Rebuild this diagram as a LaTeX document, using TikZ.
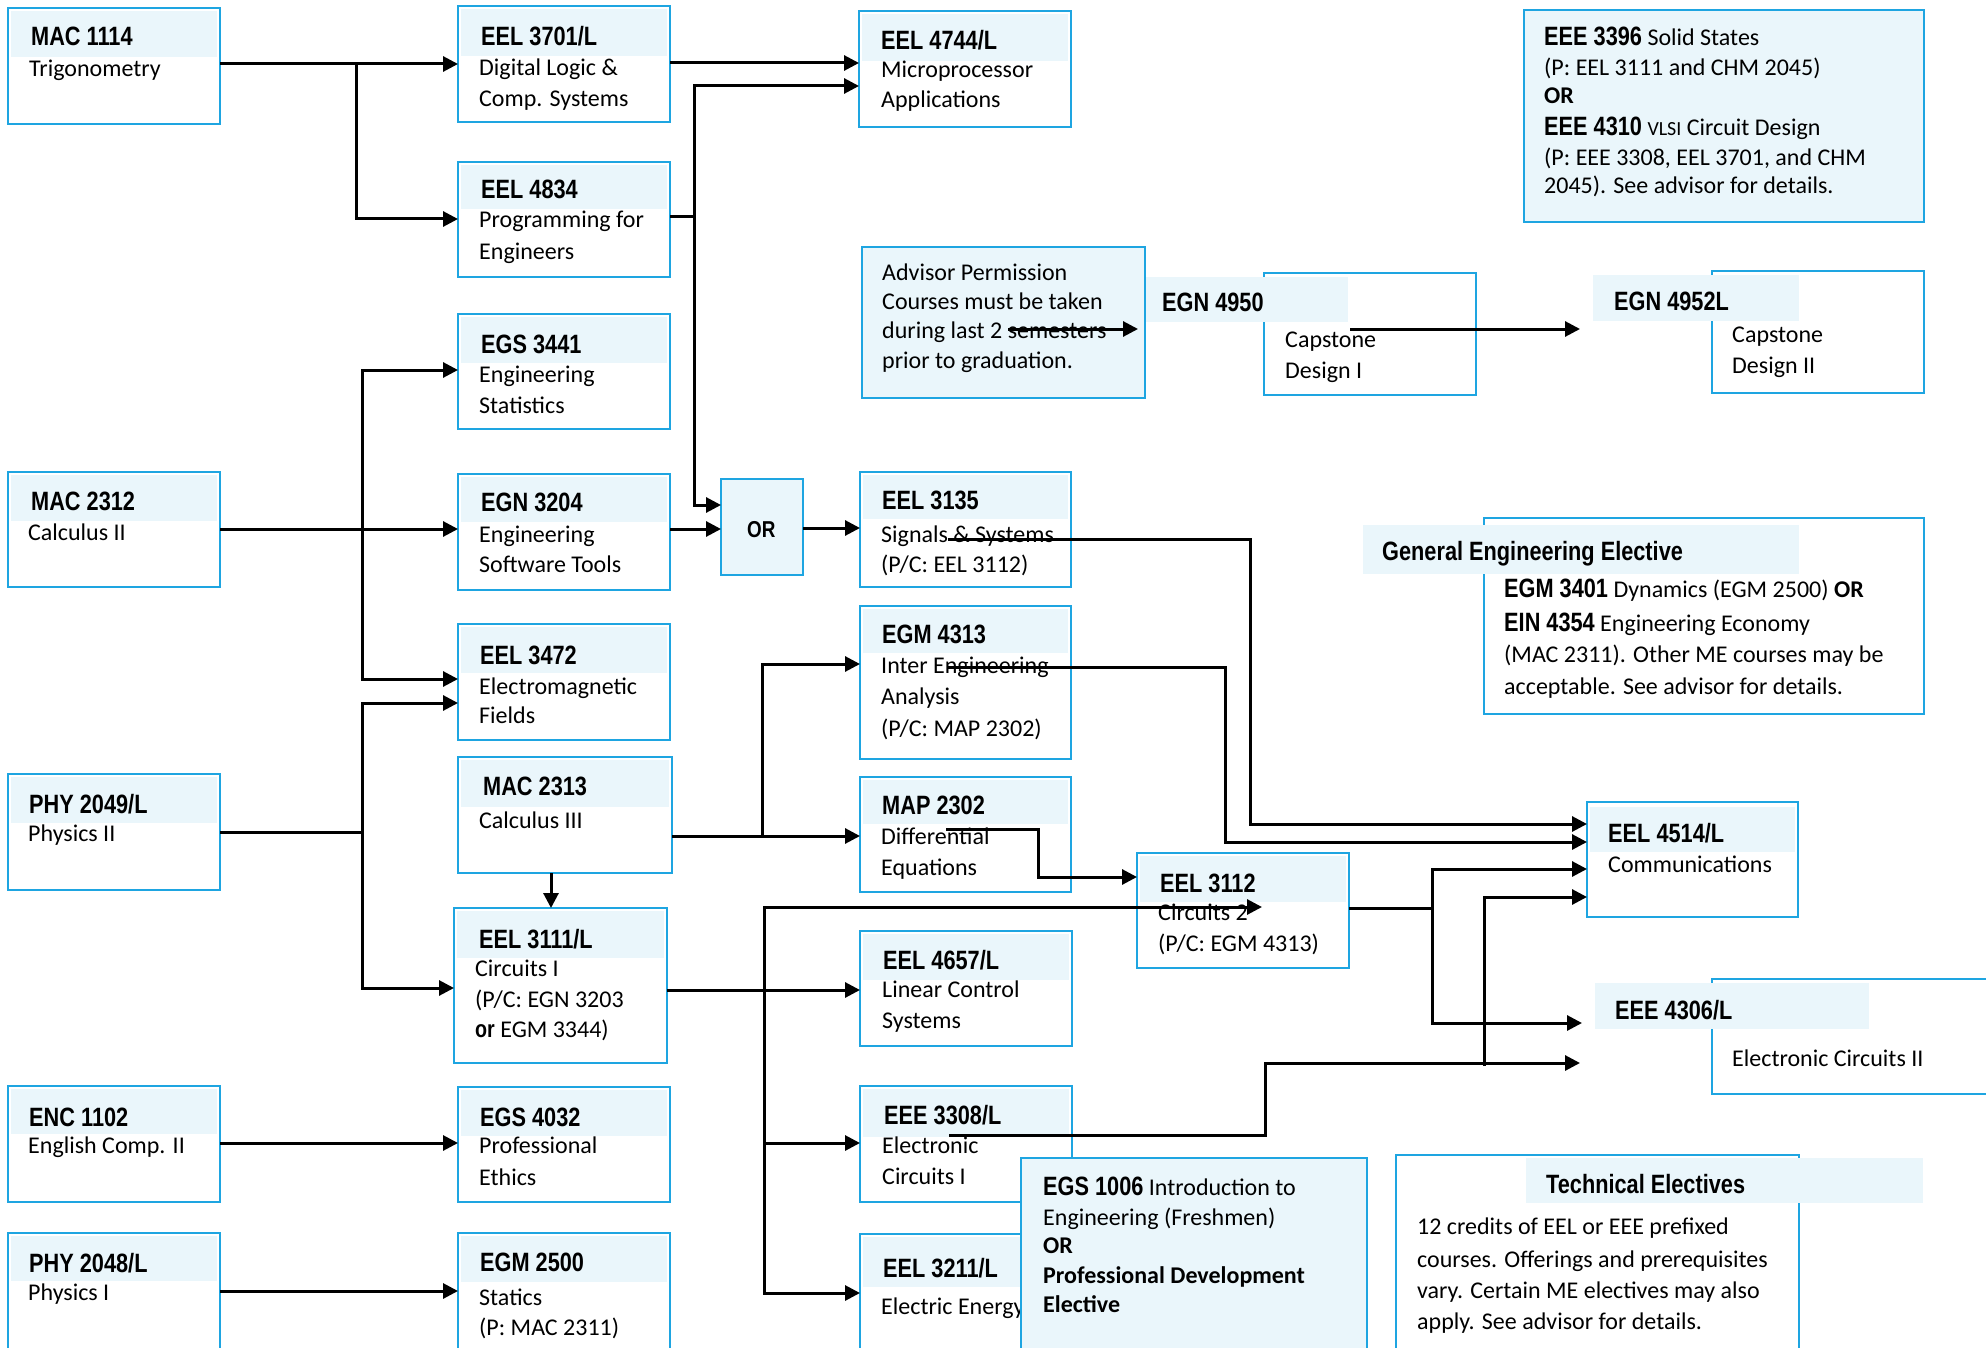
\documentclass[tikz,border=0pt]{standalone}
\usepackage{fontspec}
\setmainfont{Carlito}
\newfontfamily\headfam[FakeStretch=0.82]{Liberation Sans}
\usetikzlibrary{arrows.meta}
\definecolor{bdc}{RGB}{30,165,225}
\definecolor{hdc}{RGB}{234,246,251}
\newcommand\HeadF{\headfam\bfseries\fontsize{26.5}{30}\selectfont}
\newcommand\HeadS{\headfam\bfseries\fontsize{26.5}{30}\selectfont}
\newcommand\BodyF{\fontsize{24}{30}\selectfont}
\newcounter{txc}
\newcommand\tx[4]{\stepcounter{txc}\edef\txname{tx\arabic{txc}}\node[#1,anchor=base west] (\txname) at (#2,#3) {#4};}
% course box with header band
\newcommand\cbox[6]{%
  \node[cb, minimum width={#4-#2}, minimum height={#5-#3}] (#1) at ({(#2+#4)/2},{(#3+#5)/2}) {};
  \fill[hdc] ({#2+3},{#3+3}) rectangle ({#4-3},#6);
  \draw[bdr] (#1.north west) rectangle (#1.south east);}
% filled box
\newcommand\fbx[5]{%
  \node[cb, fill=hdc, bdr, minimum width={#4-#2}, minimum height={#5-#3}] (#1) at ({(#2+#4)/2},{(#3+#5)/2}) {};}
% white box
\newcommand\wbx[5]{%
  \node[cb, bdr, minimum width={#4-#2}, minimum height={#5-#3}] (#1) at ({(#2+#4)/2},{(#3+#5)/2}) {};}
\tikzset{
  cb/.style={fill=white, inner sep=0pt, outer sep=0pt},
  bdr/.style={draw=bdc, line width=2.5pt},
  hd/.style={font=\HeadF, inner sep=0pt},
  bt/.style={font=\BodyF, inner sep=0pt},
  orf/.style={font=\headfam\bfseries\fontsize{23}{26}\selectfont, inner sep=0pt},
  conn/.style={line width=3pt, black},
  arr/.style={conn, -{Triangle[length=15pt,width=15pt]}}
}
\begin{document}
\begin{tikzpicture}[x=1pt,y=-1pt]
\useasboundingbox (0,0) rectangle (1986,1348);
\fill[white] (0,0) rectangle (1986,1348);

% ---- left column
\cbox{mac1114}{8}{8}{220}{124}{57}
\tx{hd}{31}{46}{MAC 1114}
\tx{bt}{29}{77}{Trigonometry}

\cbox{mac2312}{8}{472}{220}{587}{521}
\tx{hd}{31}{510}{MAC 2312}
\tx{bt}{28}{540}{Calculus II}

\cbox{phy2049}{8}{774}{220}{890}{823}
\tx{hd}{29}{813}{PHY 2049/L}
\tx{bt}{28}{841}{Physics II}

\cbox{enc1102}{8}{1086}{220}{1202}{1134}
\tx{hd}{29}{1126}{ENC 1102}
\tx{bt}{28}{1153}{English Comp. II}

\cbox{phy2048}{8}{1233}{220}{1400}{1281}
\tx{hd}{29}{1272}{PHY 2048/L}
\tx{bt}{28}{1300}{Physics I}

% ---- second column
\cbox{eel3701}{458}{6}{670}{122}{56}
\tx{hd}{481}{46}{EEL 3701/L}
\tx{bt}{479}{76}{Digital Logic \&}
\tx{bt}{479}{107}{Comp. Systems}

\cbox{eel4834}{458}{162}{670}{277}{209}
\tx{hd}{481}{199}{EEL 4834}
\tx{bt}{479}{228}{Programming for}
\tx{bt}{479}{260}{Engineers}

\cbox{egs3441}{458}{314}{670}{429}{363}
\tx{hd}{481}{353}{EGS 3441}
\tx{bt}{479}{382}{Engineering}
\tx{bt}{479}{413}{Statistics}

\cbox{egn3204}{458}{474}{670}{590}{522}
\tx{hd}{481}{511}{EGN 3204}
\tx{bt}{479}{542}{Engineering}
\tx{bt}{479}{572}{Software Tools}

\cbox{eel3472}{458}{624}{670}{740}{673}
\tx{hd}{480}{664}{EEL 3472}
\tx{bt}{479}{694}{Electromagnetic}
\tx{bt}{479}{723}{Fields}

\cbox{mac2313}{458}{757}{672}{873}{807}
\tx{hd}{483}{795}{MAC 2313}
\tx{bt}{479}{828}{Calculus III}

\cbox{eel3111}{454}{908}{667}{1063}{958}
\tx{hd}{479}{948}{EEL 3111/L}
\tx{bt}{475}{976}{Circuits I}
\tx{bt}{475}{1007}{(P/C: EGN 3203}
\tx{bt}{475}{1037}{{\headfam\bfseries or} EGM 3344)}

\cbox{egs4032}{458}{1087}{670}{1202}{1136}
\tx{hd}{480}{1126}{EGS 4032}
\tx{bt}{479}{1153}{Professional}
\tx{bt}{479}{1185}{Ethics}

\cbox{egm2500}{458}{1233}{670}{1400}{1282}
\tx{hd}{480}{1271}{EGM 2500}
\tx{bt}{479}{1305}{Statics}
\tx{bt}{479}{1335}{(P: MAC 2311)}

% ---- OR box
\fbx{orb}{721}{479}{803}{575}
\tx{orf}{747}{537}{OR}

% ---- third column
\cbox{eel4744}{859}{11}{1071}{127}{61}
\tx{hd}{881}{50}{EEL 4744/L}
\tx{bt}{881}{78}{Microprocessor}
\tx{bt}{881}{108}{Applications}

\fbx{adv}{862}{247}{1145}{398}
\tx{bt}{882}{280}{Advisor Permission}
\tx{bt}{882}{309}{Courses must be taken}
\tx{bt}{882}{338}{during last 2 semesters}
\tx{bt}{882}{368}{prior to graduation.}

\cbox{eel3135}{860}{472}{1071}{587}{519}
\tx{hd}{882}{509}{EEL 3135}
\tx{bt}{881}{542}{Signals \& Systems}
\tx{bt}{881}{572}{(P/C: EEL 3112)}

\cbox{egm4313}{860}{606}{1071}{759}{653}
\tx{hd}{882}{643}{EGM 4313}
\tx{bt}{881}{673}{Inter Engineering}
\tx{bt}{881}{704}{Analysis}
\tx{bt}{881}{736}{(P/C: MAP 2302)}

\cbox{map2302}{860}{777}{1071}{892}{824}
\tx{hd}{882}{814}{MAP 2302}
\tx{bt}{881}{844}{Differential}
\tx{bt}{881}{875}{Equations}

\cbox{eel4657}{860}{931}{1072}{1046}{980}
\tx{hd}{883}{969}{EEL 4657/L}
\tx{bt}{882}{997}{Linear Control}
\tx{bt}{882}{1028}{Systems}

\cbox{eee3308}{860}{1086}{1072}{1202}{1137}
\tx{hd}{884}{1124}{EEE 3308/L}
\tx{bt}{882}{1153}{Electronic}
\tx{bt}{882}{1184}{Circuits I}

\cbox{eel3211}{860}{1234}{1072}{1400}{1287}
\tx{hd}{883}{1277}{EEL 3211/L}
\tx{bt}{881}{1314}{Electric Energy}

\fbx{egs1006}{1021}{1158}{1367}{1400}
\tx{bt}{1043}{1195}{{\HeadS EGS 1006} Introduction to}
\tx{bt}{1043}{1225}{Engineering (Freshmen)}
\tx{bt}{1043}{1253}{\textbf{OR}}
\tx{bt}{1043}{1283}{\textbf{Professional Development}}
\tx{bt}{1043}{1312}{\textbf{Elective}}

\cbox{eel3112}{1137}{853}{1349}{968}{902}
\tx{hd}{1160}{892}{EEL 3112}
\tx{bt}{1158}{920}{Circuits 2}
\tx{bt}{1158}{951}{(P/C: EGM 4313)}

% ---- capstone
\wbx{cap1}{1264}{273}{1476}{395}
\fill[hdc] (1146,277) rectangle (1348,322);
\tx{hd}{1162}{312}{EGN 4950}
\tx{bt}{1285}{347}{Capstone}
\tx{bt}{1285}{378}{Design I}

\wbx{cap2}{1712}{271}{1924}{393}
\fill[hdc] (1593,275) rectangle (1799,321);
\tx{hd}{1614}{310}{EGN 4952L}
\tx{bt}{1732}{342}{Capstone}
\tx{bt}{1732}{373}{Design II}

% ---- right column
\fbx{eee3396}{1524}{10}{1924}{222}
\tx{bt}{1544}{46}{{\HeadS EEE 3396} Solid States}
\tx{bt}{1544}{76}{(P: EEL 3111 and CHM 2045)}
\tx{bt}{1544}{104}{\textbf{OR}}
\tx{bt}{1544}{136}{{\HeadS EEE 4310} {\fontsize{20}{24}\selectfont VLSI} Circuit Design}
\tx{bt}{1544}{166}{(P: EEE 3308, EEL 3701, and CHM}
\tx{bt}{1544}{194}{2045). See advisor for details.}

\wbx{genel}{1484}{518}{1924}{714}
\fill[hdc] (1363,525) rectangle (1799,574);
\tx{hd}{1382}{560}{General Engineering Elective}
\tx{bt}{1504}{597}{{\HeadS EGM 3401} Dynamics (EGM 2500) \textbf{OR}}
\tx{bt}{1504}{631}{{\HeadS EIN 4354} Engineering Economy}
\tx{bt}{1504}{662}{(MAC 2311). Other ME courses may be}
\tx{bt}{1504}{694}{acceptable. See advisor for details.}

\wbx{eel4514}{1587}{802}{1798}{917}
\fill[hdc] (1590,807) rectangle (1795,852);
\tx{hd}{1608}{842}{EEL 4514/L}
\tx{bt}{1608}{872}{Communications}

\wbx{eee4306}{1712}{979}{2000}{1094}
\fill[hdc] (1595,983) rectangle (1869,1029);
\tx{hd}{1615}{1019}{EEE 4306/L}
\tx{bt}{1732}{1066}{Electronic Circuits II}

\wbx{techel}{1396}{1155}{1799}{1400}
\fill[hdc] (1526,1158) rectangle (1923,1203);
\tx{hd}{1546}{1193}{Technical Electives}
\tx{bt}{1417}{1234}{12 credits of EEL or EEE prefixed}
\tx{bt}{1417}{1267}{courses. Offerings and prerequisites}
\tx{bt}{1417}{1298}{vary. Certain ME electives may also}
\tx{bt}{1417}{1329}{apply. See advisor for details.}

% ================= connectors
% MAC 1114 -> EEL 3701, EEL 4834
\coordinate (j1) at (356,64);
\draw[arr] (mac1114.east |- j1) -- (eel3701.west |- j1);
\draw[arr] (j1) -- (j1 |- 0,219) -- (eel4834.west |- 0,219);
% EEL 3701 -> EEL 4744
\draw[arr] (eel3701.east |- 0,63) -- (eel4744.west |- 0,63);
% EEL 4834 -> EEL 4744, OR
\coordinate (j2) at (694,217);
\draw[conn] (eel4834.east |- j2) -- (j2);
\draw[arr] (j2) -- (j2 |- 0,86) -- (eel4744.west |- 0,86);
\draw[arr] (j2) -- (j2 |- 0,505) -- (orb.west |- 0,505);
% EGN 3204 -> OR -> EEL 3135
\draw[arr] (egn3204.east |- 0,529) -- (orb.west |- 0,529);
\draw[arr] (orb.east |- 0,528) -- (eel3135.west |- 0,528);
% MAC 2312 -> EGN 3204, EGS 3441, EEL 3472
\draw[arr] (mac2312.east |- 0,529) -- (egn3204.west |- 0,529);
\coordinate (j3) at (362,529);
\draw[arr] (j3) -- (j3 |- 0,370) -- (egs3441.west |- 0,370);
\draw[arr] (j3) -- (j3 |- 0,679) -- (eel3472.west |- 0,679);
% PHY 2049 -> EEL 3472, EEL 3111
\coordinate (j4) at (362,832);
\draw[conn] (phy2049.east |- j4) -- (j4);
\draw[arr] (j4) -- (j4 |- 0,703) -- (eel3472.west |- 0,703);
\draw[arr] (j4) -- (j4 |- 0,988) -- (eel3111.west |- 0,988);
% MAC 2313 -> MAP 2302, EGM 4313, EEL 3111
\draw[arr] (mac2313.east |- 0,836) -- (map2302.west |- 0,836);
\coordinate (j5) at (762,836);
\draw[arr] (j5) -- (j5 |- 0,664) -- (egm4313.west |- 0,664);
\draw[arr] (mac2313.south -| 551,0) -- (eel3111.north -| 551,0);
% EEL 3111 -> EEL 4657, EEL 3112, EEE 3308, EEL 3211
\draw[arr] (eel3111.east |- 0,990) -- (eel4657.west |- 0,990);
\coordinate (j6) at (764,990);
\coordinate (e1) at (1262,907);
\draw[arr] (j6) -- (j6 |- e1) -- (e1);
\draw[arr] (j6) -- (j6 |- 0,1143) -- (eee3308.west |- 0,1143);
\draw[arr] (j6) -- (j6 |- 0,1293) -- (eel3211.west |- 0,1293);
% MAP 2302 -> EEL 3112
\coordinate (s3) at (946,829);
\draw[arr] (s3) -- (1038,829) -- (1038,877) -- (eel3112.west |- 0,877);
% EEL 3135 -> EEL 4514
\coordinate (s1) at (948,539);
\draw[arr] (s1) -- (1250,539) -- (1250,824) -- (eel4514.west |- 0,824);
% EGM 4313 -> EEL 4514
\coordinate (s2) at (948,667);
\draw[arr] (s2) -- (1225,667) -- (1225,842) -- (eel4514.west |- 0,842);
% EEL 3112 -> EEL 4514, EEE 4306
\coordinate (j7) at (1432,908);
\coordinate (t1) at (1582,1023);
\draw[conn] (eel3112.east |- j7) -- (j7);
\draw[arr] (j7) -- (j7 |- 0,869) -- (eel4514.west |- 0,869);
\draw[arr] (j7) -- (j7 |- t1) -- (t1);
% EEE 3308 -> EEE 4306, EEL 4514
\coordinate (s4) at (949,1135);
\coordinate (t2) at (1580,1063);
\draw[arr] (s4) -- (1265,1135) -- (1265,1063) -- (t2);
\coordinate (j8) at (1484,1066);
\draw[arr] (j8) -- (j8 |- 0,897) -- (eel4514.west |- 0,897);
% Advisor -> EGN 4950 -> EGN 4952L
\coordinate (s5) at (1008,329);
\coordinate (t3) at (1138,329);
\draw[arr] (s5) -- (t3);
\coordinate (s6) at (1350,329);
\coordinate (t4) at (1580,329);
\draw[arr] (s6) -- (t4);
% ENC 1102 -> EGS 4032 ; PHY 2048 -> EGM 2500
\draw[arr] (enc1102.east |- 0,1143) -- (egs4032.west |- 0,1143);
\draw[arr] (phy2048.east |- 0,1291) -- (egm2500.west |- 0,1291);
\end{tikzpicture}
\end{document}
